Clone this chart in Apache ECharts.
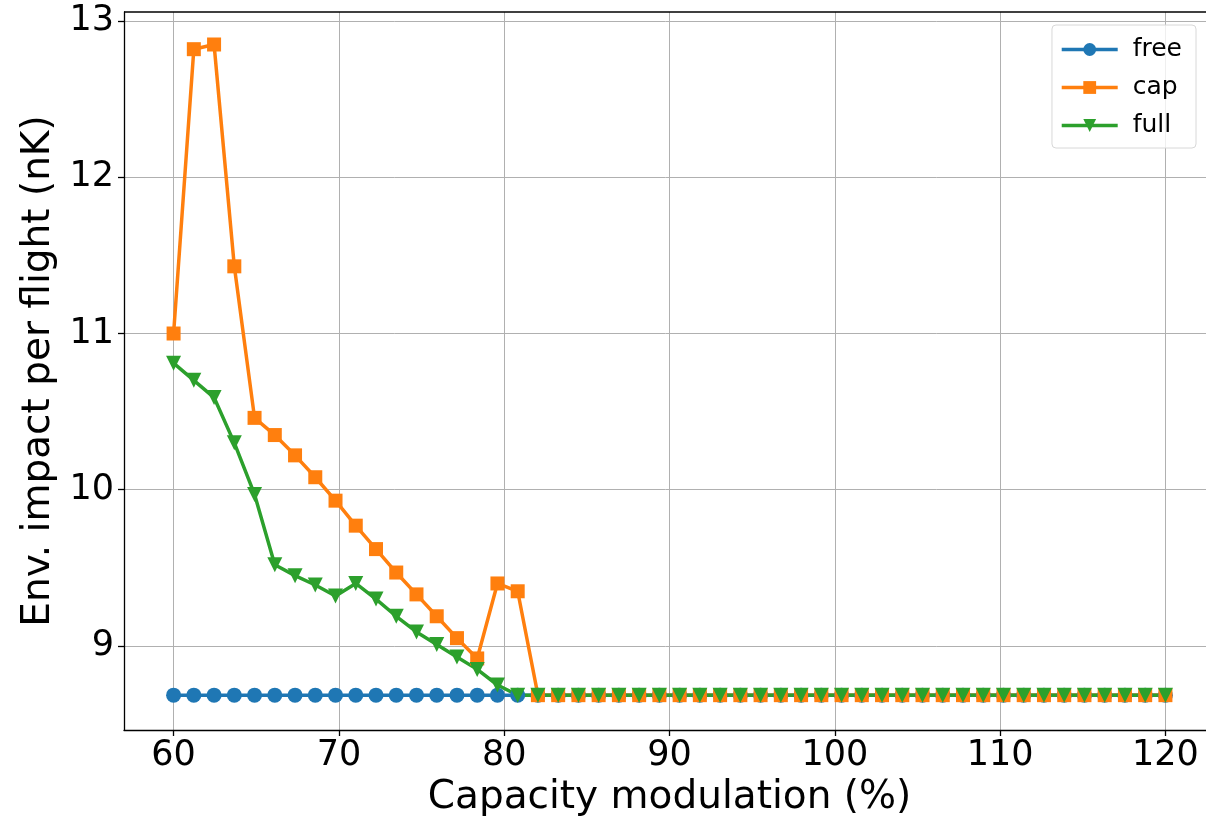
<!DOCTYPE html>
<html>
<head>
<meta charset="utf-8">
<script src="https://cdn.jsdelivr.net/npm/echarts@6/dist/echarts.min.js"></script>
<style>
  html, body { margin: 0; padding: 0; background: #fff; }
  #chart { width: 1206px; height: 820px; }
</style>
</head>
<body>
<div id="chart"></div>
<script>
// x positions (capacity modulation, %)
const capMod = [60, 61.2245, 62.449, 63.6735, 64.898, 66.1224, 67.3469, 68.5714, 69.7959, 71.0204,
  72.2449, 73.4694, 74.6939, 75.9184, 77.1429, 78.3673, 79.5918, 80.8163, 82.0408, 83.2653,
  84.4898, 85.7143, 86.9388, 88.1633, 89.3878, 90.6122, 91.8367, 93.0612, 94.2857, 95.5102,
  96.7347, 97.9592, 99.1837, 100.4082, 101.6327, 102.8571, 104.0816, 105.3061, 106.5306, 107.7551,
  108.9796, 110.2041, 111.4286, 112.6531, 113.8776, 115.102, 116.3265, 117.551, 118.7755, 120];

const freeVals = [8.685, 8.685, 8.685, 8.685, 8.685, 8.685, 8.685, 8.685, 8.685, 8.685,
  8.685, 8.685, 8.685, 8.685, 8.685, 8.685, 8.685, 8.685, 8.685, 8.685,
  8.685, 8.685, 8.685, 8.685, 8.685, 8.685, 8.685, 8.685, 8.685, 8.685,
  8.685, 8.685, 8.685, 8.685, 8.685, 8.685, 8.685, 8.685, 8.685, 8.685,
  8.685, 8.685, 8.685, 8.685, 8.685, 8.685, 8.685, 8.685, 8.685, 8.685];

const capVals = [11.00, 12.82, 12.85, 11.43, 10.46, 10.35, 10.22, 10.08, 9.93, 9.77,
  9.62, 9.47, 9.33, 9.19, 9.05, 8.92, 9.40, 9.35, 8.685, 8.685,
  8.685, 8.685, 8.685, 8.685, 8.685, 8.685, 8.685, 8.685, 8.685, 8.685,
  8.685, 8.685, 8.685, 8.685, 8.685, 8.685, 8.685, 8.685, 8.685, 8.685,
  8.685, 8.685, 8.685, 8.685, 8.685, 8.685, 8.685, 8.685, 8.685, 8.685];

const fullVals = [10.81, 10.70, 10.59, 10.30, 9.97, 9.52, 9.45, 9.39, 9.32, 9.40,
  9.30, 9.19, 9.09, 9.01, 8.93, 8.85, 8.75, 8.685, 8.685, 8.685,
  8.685, 8.685, 8.685, 8.685, 8.685, 8.685, 8.685, 8.685, 8.685, 8.685,
  8.685, 8.685, 8.685, 8.685, 8.685, 8.685, 8.685, 8.685, 8.685, 8.685,
  8.685, 8.685, 8.685, 8.685, 8.685, 8.685, 8.685, 8.685, 8.685, 8.685];

const xTicks = [60, 70, 80, 90, 100, 110, 120];
const yTicks = [9, 10, 11, 12, 13];

const font = 'DejaVu Sans';
const chart = echarts.init(document.getElementById('chart'), null, { renderer: 'canvas' });

function pairs(vals) {
  return vals.map((v, i) => [capMod[i], v]);
}

function lineSeries(name, vals, color, symbol, size, rotate) {
  return {
    name: name,
    type: 'line',
    data: pairs(vals),
    symbol: symbol,
    symbolSize: size,
    symbolRotate: rotate,
    showAllSymbol: true,
    animation: false,
    lineStyle: { color: color, width: 3.5 },
    itemStyle: { color: color, borderWidth: 0 },
    emphasis: { disabled: true }
  };
}

const option = {
  backgroundColor: '#fff',
  animation: false,
  grid: { left: 124, top: 12, width: 1091, height: 718, containLabel: false, outerBoundsMode: 'none' },
  legend: {
    right: 10,
    top: 25,
    orient: 'vertical',
    itemWidth: 56,
    itemHeight: 16,
    itemGap: 13,
    padding: [12, 14, 10, 8],
    borderColor: '#d8d8d8',
    borderWidth: 1,
    borderRadius: 4,
    backgroundColor: 'rgba(255,255,255,0.8)',
    lineStyle: { width: 3.5 },
    textStyle: { fontFamily: font, fontSize: 25, color: '#000', padding: [0, 0, 0, 10] },
    data: ['free', 'cap', 'full']
  },
  xAxis: {
    type: 'value',
    min: 57,
    max: 123,
    name: 'Capacity modulation (%)',
    nameLocation: 'middle',
    nameGap: 45,
    nameTextStyle: { fontFamily: font, fontSize: 39, color: '#000' },
    axisLine: { show: true, onZero: false, lineStyle: { color: '#000', width: 1.3 } },
    axisTick: { show: true, inside: false, length: 6, customValues: xTicks, lineStyle: { color: '#000', width: 1.3 } },
    axisLabel: { customValues: xTicks, fontFamily: font, fontSize: 35, color: '#000', margin: 8 },
    splitLine: { show: true, lineStyle: { color: '#b0b0b0', width: 1 } }
  },
  yAxis: {
    type: 'value',
    min: 8.462,
    max: 13.058,
    name: 'Env. impact per flight (nK)',
    nameLocation: 'middle',
    nameGap: 59,
    nameTextStyle: { fontFamily: font, fontSize: 39, color: '#000' },
    axisLine: { show: true, onZero: false, lineStyle: { color: '#000', width: 1.3 } },
    axisTick: { show: true, inside: false, length: 6, customValues: yTicks, lineStyle: { color: '#000', width: 1.3 } },
    axisLabel: { customValues: yTicks, fontFamily: font, fontSize: 35, color: '#000', margin: 10 },
    splitLine: { show: true, lineStyle: { color: '#b0b0b0', width: 1 } }
  },
  series: [
    lineSeries('free', freeVals, '#1f77b4', 'circle', 15, 0),
    lineSeries('cap', capVals, '#ff7f0e', 'rect', 14, 0),
    lineSeries('full', fullVals, '#2ca02c', 'triangle', 15, 180)
  ]
};

chart.setOption(option);

// top border of the axes box (matplotlib draws a full frame)
const tl = chart.convertToPixel({ gridIndex: 0 }, [57, 13.058]);
chart.setOption({
  graphic: [{
    type: 'line',
    shape: { x1: tl[0], y1: tl[1], x2: 1206, y2: tl[1] },
    style: { stroke: '#000', lineWidth: 1.3 },
    z: 10
  }]
});
</script>
</body>
</html>
